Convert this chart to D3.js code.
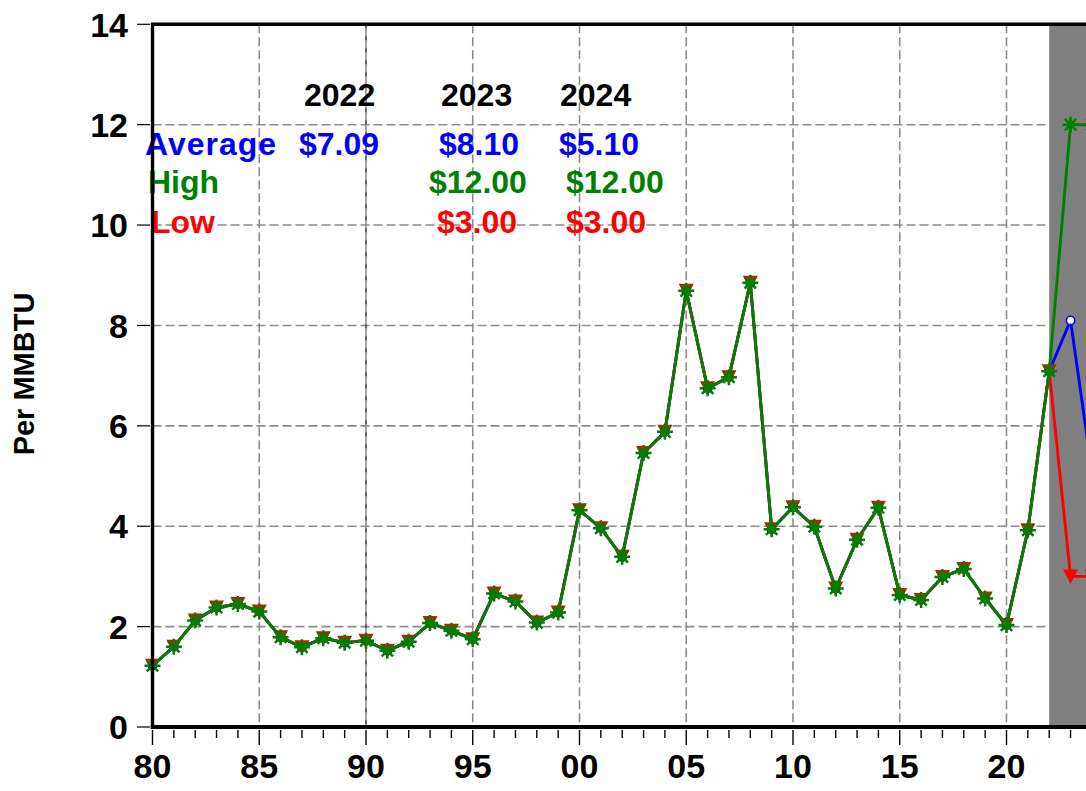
<!DOCTYPE html>
<html>
<head>
<meta charset="utf-8">
<script src="https://cdn.jsdelivr.net/npm/d3@7"></script>
<style>
  body { margin: 0; background: #fff; }
  svg { display: block; font-family: "Liberation Sans", Arial, sans-serif; font-weight: bold; }
</style>
</head>
<body>
<svg id="chart" width="1086" height="791"></svg>
<script>
// data
const years = d3.range(1980, 2025);
const history = [1.22, 1.60, 2.12, 2.38, 2.45, 2.30, 1.79, 1.59, 1.77, 1.68,
  1.72, 1.52, 1.70, 2.07, 1.92, 1.75, 2.66, 2.50, 2.08, 2.28,
  4.32, 3.96, 3.39, 5.46, 5.88, 8.69, 6.75, 6.97, 8.85, 3.94,
  4.38, 3.99, 2.76, 3.73, 4.37, 2.63, 2.53, 2.99, 3.15, 2.56,
  2.03, 3.92, 7.09];
const avgForecast = [8.10, 5.10];
const highForecast = [12.00, 12.00];
const lowForecast = [3.00, 3.00];
const forecastStart = 2022;

const yTicks = [0, 2, 4, 6, 8, 10, 12, 14];
const xMajor = [1980, 1985, 1990, 1995, 2000, 2005, 2010, 2015, 2020];
const xTickLabel = (yr) => String(yr).slice(2);

const tableHeader = ["2022", "2023", "2024"];
const avgLabels = ["$7.09", "$8.10", "$5.10"];
const highLabels = ["", "$12.00", "$12.00"];
const lowLabels = ["", "$3.00", "$3.00"];

const series = [
  { name: "Average", color: "#0000ff", values: history.concat(avgForecast), marker: "circle" },
  { name: "Low", color: "#ff0000", values: history.concat(lowForecast), marker: "triangle" },
  { name: "High", color: "#008000", values: history.concat(highForecast), marker: "star" },
];

const svg = d3.select("#chart");
const pLeft = 152.5, pBottom = 727, pTop = 24.3;

const x = d3.scaleLinear().domain([1980, 2024]).range([pLeft, pLeft + 44 * 21.35]);
const y = d3.scaleLinear().domain([0, 14]).range([pBottom, pTop]);

// forecast shading
svg.append("rect")
  .attr("x", x(forecastStart)).attr("y", pTop)
  .attr("width", 1086 - x(forecastStart)).attr("height", pBottom - pTop)
  .attr("fill", "#808080");

// grid
const grid = svg.append("g");
grid.selectAll("line.h").data(yTicks.filter((d) => d > 0 && d < 14)).join("line")
  .attr("class", "h")
  .attr("x1", pLeft).attr("x2", x(forecastStart))
  .attr("y1", (d) => y(d)).attr("y2", (d) => y(d))
  .attr("stroke", "#8c8c8c").attr("stroke-width", 1.6).attr("stroke-dasharray", "9,4");
grid.selectAll("line.v").data(xMajor.filter((d) => d > 1980)).join("line")
  .attr("class", "v")
  .attr("x1", (d) => x(d)).attr("x2", (d) => x(d))
  .attr("y1", pTop).attr("y2", pBottom)
  .attr("stroke", "#8c8c8c").attr("stroke-width", 1.6)
  .attr("stroke-dasharray", (d) => (d === 1990 ? null : "9,4"));
grid.append("line")
  .attr("x1", x(1990)).attr("x2", x(1990)).attr("y1", pTop).attr("y2", pBottom)
  .attr("stroke", "#000").attr("stroke-width", 0.8).attr("stroke-dasharray", "4,8");

// annotation table
const tbl = svg.append("g").attr("font-size", 32);
const headX = [304, 441, 560];
tbl.selectAll("text.hd").data(tableHeader).join("text")
  .attr("class", "hd").attr("x", (d, i) => headX[i]).attr("y", 106)
  .attr("fill", "#000").text((d) => d);
const rows = [
  { label: "Average", lx: 145, y: 155, color: "#0000ff", vals: avgLabels, xs: [299, 439, 559] },
  { label: "High", lx: 148, y: 193, color: "#008000", vals: highLabels, xs: [0, 429, 566] },
  { label: "Low", lx: 151, y: 233, color: "#ff0000", vals: lowLabels, xs: [0, 437, 566] },
];
rows.forEach((r) => {
  tbl.append("text").attr("x", r.lx).attr("y", r.y).attr("fill", r.color)
    .attr("letter-spacing", r.label === "Average" ? 1 : 0).text(r.label);
  tbl.selectAll(null).data(r.vals).join("text")
    .attr("x", (d, i) => r.xs[i]).attr("y", r.y)
    .attr("fill", r.color).text((d) => d);
});

// lines and markers
const line = d3.line().x((d, i) => x(years[i])).y((d) => y(d));
const star = "M-8,0L8,0M0,-8L0,8M-5.7,-5.7L5.7,5.7M-5.7,5.7L5.7,-5.7";
const tri = "M-7.5,-7L7.5,-7L0,7.5Z";
series.forEach((s) => {
  const g = svg.append("g");
  g.append("path").attr("d", line(s.values))
    .attr("fill", "none").attr("stroke", s.color).attr("stroke-width", 2.9)
    .attr("stroke-linejoin", "round");
  const pts = g.selectAll("g.m").data(s.values).join("g")
    .attr("transform", (d, i) => `translate(${x(years[i])},${y(d)})`);
  if (s.marker === "circle") {
    pts.append("circle").attr("r", 4.2).attr("fill", "#fff")
      .attr("stroke", s.color).attr("stroke-width", 1.6);
  } else if (s.marker === "triangle") {
    pts.append("path").attr("d", tri).attr("fill", s.color);
  } else {
    pts.append("path").attr("d", star).attr("fill", "none")
      .attr("stroke", s.color).attr("stroke-width", 2.5);
  }
});

// frame
svg.append("path")
  .attr("d", `M${pLeft},${pBottom}L${pLeft},${pTop}L1086,${pTop}`)
  .attr("fill", "none").attr("stroke", "#000").attr("stroke-width", 3.4);
svg.append("line")
  .attr("x1", pLeft - 1.7).attr("x2", 1086).attr("y1", pBottom).attr("y2", pBottom)
  .attr("stroke", "#000").attr("stroke-width", 4);

// y axis
const yAxis = svg.append("g");
yAxis.selectAll("line").data(yTicks).join("line")
  .attr("x1", 137).attr("x2", 150).attr("y1", (d) => y(d)).attr("y2", (d) => y(d))
  .attr("stroke", "#000").attr("stroke-width", 1.2);
yAxis.selectAll("text").data(yTicks).join("text")
  .attr("x", 128).attr("y", (d) => y(d)).attr("dy", "0.36em")
  .attr("text-anchor", "end").attr("font-size", 34).text((d) => d);

// x axis
const xAxis = svg.append("g");
xAxis.selectAll("line").data(years).join("line")
  .attr("x1", (d) => x(d)).attr("x2", (d) => x(d))
  .attr("y1", 730).attr("y2", (d) => (xMajor.includes(d) ? 745 : 738))
  .attr("stroke", "#000").attr("stroke-width", 1.4);
xAxis.selectAll("text").data(xMajor).join("text")
  .attr("x", (d) => x(d)).attr("y", 778)
  .attr("text-anchor", "middle").attr("font-size", 34).text(xTickLabel);

// y title
svg.append("text")
  .attr("transform", "translate(34,374) rotate(-90)")
  .attr("text-anchor", "middle").attr("font-size", 29)
  .text("Per MMBTU");
</script>
</body>
</html>
